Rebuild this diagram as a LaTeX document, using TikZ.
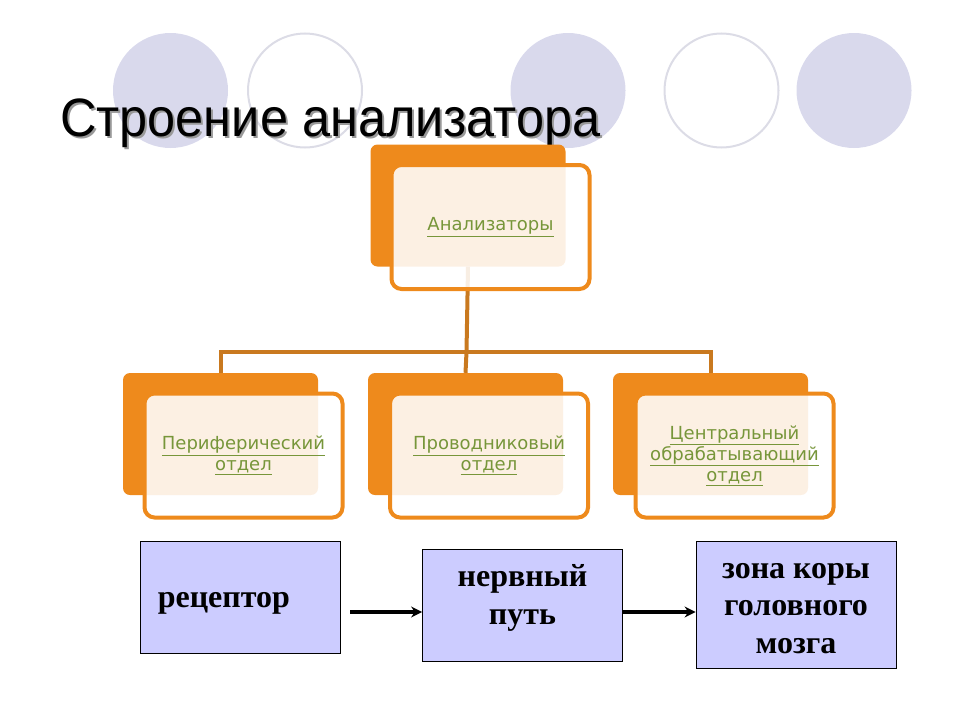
\documentclass[tikz,border=0pt]{standalone}
\usepackage{fontspec}
\setmainfont{Liberation Serif}
\newfontfamily\headfont{Liberation Sans}
\newfontfamily\boxfont{DejaVu Sans}
\usetikzlibrary{arrows.meta}
\definecolor{dotfill}{HTML}{D9D9EC}
\definecolor{dotline}{HTML}{DCDCE6}
\definecolor{boxorange}{HTML}{EE8A1C}
\definecolor{linkbrown}{HTML}{C9791F}
\definecolor{labelgreen}{HTML}{77963A}
\definecolor{stagefill}{HTML}{CCCCFF}
\newcommand{\ulabel}[1]{\underline{#1}}
\tikzstyle{backbox}=[fill=boxorange, rounded corners=7pt, inner sep=0, minimum width=195pt, minimum height=122pt]
\tikzstyle{frontbox}=[draw=boxorange, line width=4pt, fill=white, fill opacity=0.88, text opacity=1,
                      rounded corners=10pt, inner sep=0, minimum width=198pt, minimum height=124pt,
                      align=center, text=labelgreen, font=\boxfont\fontsize{18}{21}\selectfont]
\tikzstyle{stagebox}=[draw=black, line width=0.8pt, fill=stagefill, inner sep=0, minimum width=200pt,
                      minimum height=112pt]
\tikzstyle{stagetext}=[inner sep=0, align=center, font=\bfseries\fontsize{32}{37.5}\selectfont]
\tikzstyle{flow}=[line width=4pt, -{Stealth[length=11pt, width=11pt]}]
\tikzstyle{link}=[draw=linkbrown, line width=4pt]
\tikzstyle{heading}=[anchor=base west, inner sep=0, xscale=0.935, transform shape,
                     font=\headfont\fontsize{54}{60}\selectfont]

\begin{document}
\begin{tikzpicture}[x=1pt, y=-1pt]
    \useasboundingbox (0, 0) rectangle (960, 720);
    % circles at the top
    \foreach \cx/\kind in {170.5/f, 305/o, 568/f, 721.5/o, 854/f} {
        \if f\kind
            \fill[dotfill] (\cx, 90.5) circle (57.5);
        \else
            \draw[dotline, line width=2pt] (\cx, 90.5) circle (57);
        \fi
    }
    \node[heading, text=black!40] (titleshadow) at (62, 138) {Строение анализатора};
    \node[heading] (title) at (60, 136) {Строение анализатора};

    \node[backbox] (topback) at (468, 205.5) {};
    \node[backbox] (periback) at (220.5, 434) {};
    \node[backbox] (condback) at (465.5, 434) {};
    \node[backbox] (centback) at (710.5, 434) {};

    \coordinate (hub) at (466.5, 352);
    \draw[link] (topback.south) -- (hub);
    \draw[link] (periback.north) |- (hub);
    \draw[link] (centback.north) |- (hub);
    \draw[link] (hub) -- (condback.north);

    \node[frontbox] (top) at (490.5, 227) {\ulabel{Анализаторы}};
    \node[frontbox] (peri) at (243.5, 455.5) {\ulabel{Периферический}\\\ulabel{отдел}};
    \node[frontbox] (cond) at (489, 455.5) {\ulabel{Проводниковый}\\\ulabel{отдел}};
    \node[frontbox] (cent) at (734.5, 455.5) {\ulabel{Центральный}\\\ulabel{обрабатывающий}\\\ulabel{отдел}};

    \node[stagebox, label={[stagetext, anchor=west, xshift=18pt, yshift=-6pt]west:рецептор}] (receptor) at (240, 597) {};
    \node[stagebox, label={[stagetext, yshift=7pt]center:{нервный\\путь}}] (pathway) at (522.5, 605) {};
    \node[stagebox, minimum height=127pt, label={[stagetext, yshift=-4pt]center:{зона коры\\головного\\мозга}}] (cortex) at (796, 604.5) {};

    \coordinate (flowstart) at (350, 612);
    \draw[flow] (flowstart) -- (pathway.west |- flowstart);
    \draw[flow] (pathway.east |- flowstart) -- (cortex.west |- flowstart);
\end{tikzpicture}
\end{document}
